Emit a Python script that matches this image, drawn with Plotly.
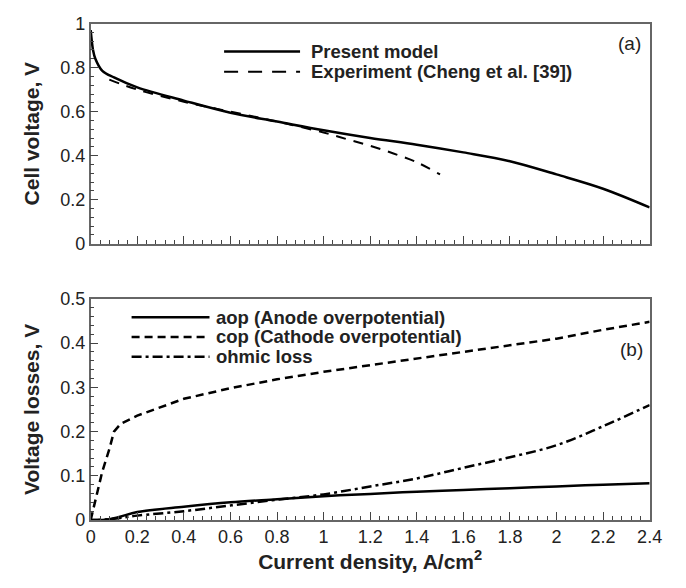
import plotly.graph_objects as go

# ---- Data ----
model_x = [0.0, 0.01, 0.02, 0.05, 0.1, 0.2, 0.4, 0.6, 0.8, 1.0, 1.2, 1.4, 1.6, 1.8, 2.0, 2.2, 2.4]
model_v = [0.97, 0.88, 0.84, 0.785, 0.755, 0.71, 0.65, 0.595, 0.555, 0.515, 0.48, 0.45, 0.415, 0.375, 0.315, 0.25, 0.165]

exp_x = [0.08, 0.2, 0.4, 0.6, 0.8, 1.0, 1.1, 1.2, 1.3, 1.4, 1.5]
exp_v = [0.745, 0.70, 0.645, 0.60, 0.555, 0.505, 0.475, 0.445, 0.41, 0.37, 0.315]

loss_x = [0.0, 0.02, 0.05, 0.08, 0.1, 0.13, 0.2, 0.4, 0.6, 0.8, 1.0, 1.2, 1.4, 1.6, 1.8, 2.0, 2.2, 2.4]
aop = [0.0, 0.0, 0.0, 0.002, 0.004, 0.008, 0.018, 0.03, 0.04, 0.047, 0.054, 0.059, 0.064, 0.068, 0.072, 0.076, 0.08, 0.083]
cop = [0.0, 0.046, 0.11, 0.16, 0.2, 0.218, 0.236, 0.274, 0.298, 0.318, 0.335, 0.35, 0.365, 0.38, 0.395, 0.41, 0.43, 0.448]
ohmic = [0.0, 0.0, 0.001, 0.002, 0.003, 0.005, 0.01, 0.02, 0.033, 0.046, 0.058, 0.076, 0.094, 0.118, 0.142, 0.169, 0.212, 0.26]

x_ticks = [0, 0.2, 0.4, 0.6, 0.8, 1, 1.2, 1.4, 1.6, 1.8, 2, 2.2, 2.4]
x_tick_labels = ["0", "0.2", "0.4", "0.6", "0.8", "1", "1.2", "1.4", "1.6", "1.8", "2", "2.2", "2.4"]
top_y_ticks = [0, 0.2, 0.4, 0.6, 0.8, 1]
top_y_labels = ["0", "0.2", "0.4", "0.6", "0.8", "1"]
bot_y_ticks = [0, 0.1, 0.2, 0.3, 0.4, 0.5]
bot_y_labels = ["0", "0.1", "0.2", "0.3", "0.4", "0.5"]

legend_top = ["Present model", "Experiment (Cheng et al. [39])"]
legend_bot = ["aop (Anode overpotential)", "cop (Cathode overpotential)", "ohmic loss"]

W, H = 686, 588
FONT = "Liberation Sans, Arial, sans-serif"
FRAME = "#666666"
TXT = "#222222"

fig = go.Figure()
fig.add_trace(go.Scatter(x=model_x, y=model_v, mode="lines", line=dict(color="black", width=2.5, shape="spline"),
                         xaxis="x", yaxis="y", showlegend=False))
fig.add_trace(go.Scatter(x=exp_x, y=exp_v, mode="lines", line=dict(color="black", width=2, dash="10px,8px", shape="spline"),
                         xaxis="x", yaxis="y", showlegend=False))
fig.add_trace(go.Scatter(x=loss_x, y=aop, mode="lines", line=dict(color="black", width=2.5, shape="spline"),
                         xaxis="x2", yaxis="y2", showlegend=False))
fig.add_trace(go.Scatter(x=loss_x, y=cop, mode="lines", line=dict(color="black", width=2.5, dash="8px,5px"),
                         xaxis="x2", yaxis="y2", showlegend=False))
fig.add_trace(go.Scatter(x=loss_x, y=ohmic, mode="lines", line=dict(color="black", width=2.5, dash="10px,4px,3px,4px", shape="spline"),
                         xaxis="x2", yaxis="y2", showlegend=False))

def px_x(p):
    return p / W

def px_y(p):
    return 1 - p / H

xdom = [px_x(88), px_x(662)]
axis_common = dict(showline=True, linecolor=FRAME, linewidth=1.5, mirror=True, ticks="inside",
                   tickcolor="#444444", ticklen=8, tickwidth=1, showgrid=False, zeroline=False,
                   tickfont=dict(family=FONT, size=18, color=TXT))
title_font = dict(family=FONT, size=21, color=TXT)

fig.update_layout(
    width=W, height=H, margin=dict(l=0, r=0, t=0, b=0),
    paper_bgcolor="white", plot_bgcolor="white",
    xaxis=dict(domain=xdom, range=[0, 2.4], tickvals=x_ticks, showticklabels=False,
               minor=dict(dtick=0.04, ticks="inside", ticklen=4, tickcolor="#444444"),
               anchor="y", **axis_common),
    yaxis=dict(domain=[px_y(242), px_y(14)], range=[0, 1], tickvals=top_y_ticks, ticktext=top_y_labels,
               minor=dict(dtick=0.04, ticks="inside", ticklen=4, tickcolor="#444444"),
               anchor="x", title=dict(text="<b>Cell voltage, V</b>", font=title_font, standoff=15),
               **axis_common),
    xaxis2=dict(domain=xdom, range=[0, 2.4], tickvals=x_ticks, ticktext=x_tick_labels,
                minor=dict(dtick=0.04, ticks="inside", ticklen=4, tickcolor="#444444"),
                anchor="y2", title=dict(text="<b>Current density, A/cm<sup>2</sup></b>", font=title_font, standoff=8),
                **axis_common),
    yaxis2=dict(domain=[px_y(528), px_y(299)], range=[0, 0.5], tickvals=bot_y_ticks, ticktext=bot_y_labels,
                minor=dict(dtick=0.02, ticks="inside", ticklen=4, tickcolor="#444444"),
                anchor="x2", title=dict(text="<b>Voltage losses, V</b>", font=title_font, standoff=15),
                **axis_common),
)

shapes = []
annots = []

def leg_entry(x0, x1, y, dash, width, label, gap, size):
    shapes.append(dict(type="line", xref="paper", yref="paper", x0=px_x(x0), x1=px_x(x1), y0=px_y(y), y1=px_y(y),
                       line=dict(color="black", width=width, dash=dash)))
    annots.append(dict(xref="paper", yref="paper", x=px_x(x1 + gap), y=px_y(y), xanchor="left", yanchor="middle",
                       text="<b>" + label + "</b>", showarrow=False, borderpad=0,
                       font=dict(family=FONT, size=size, color=TXT)))

leg_entry(225, 303, 43, "solid", 2.5, legend_top[0], 10, 18.5)
leg_entry(225, 303, 64, "14px,10px", 2, legend_top[1], 10, 18.5)
leg_entry(130, 210, 318, "solid", 2.5, legend_bot[0], 6, 18.5)
leg_entry(130, 210, 338.5, "8px,5px", 2.5, legend_bot[1], 6, 18.5)
leg_entry(130, 210, 359, "10px,4px,3px,4px", 2.5, legend_bot[2], 6, 18.5)

annots.append(dict(xref="paper", yref="paper", x=px_x(655), y=px_y(35), xanchor="right", yanchor="middle",
                   text="(a)", showarrow=False, font=dict(family=FONT, size=19, color=TXT)))
annots.append(dict(xref="paper", yref="paper", x=px_x(657), y=px_y(351), xanchor="right", yanchor="middle",
                   text="(b)", showarrow=False, font=dict(family=FONT, size=19, color=TXT)))

fig.update_layout(shapes=shapes, annotations=annots)
fig.write_html("out.html")
